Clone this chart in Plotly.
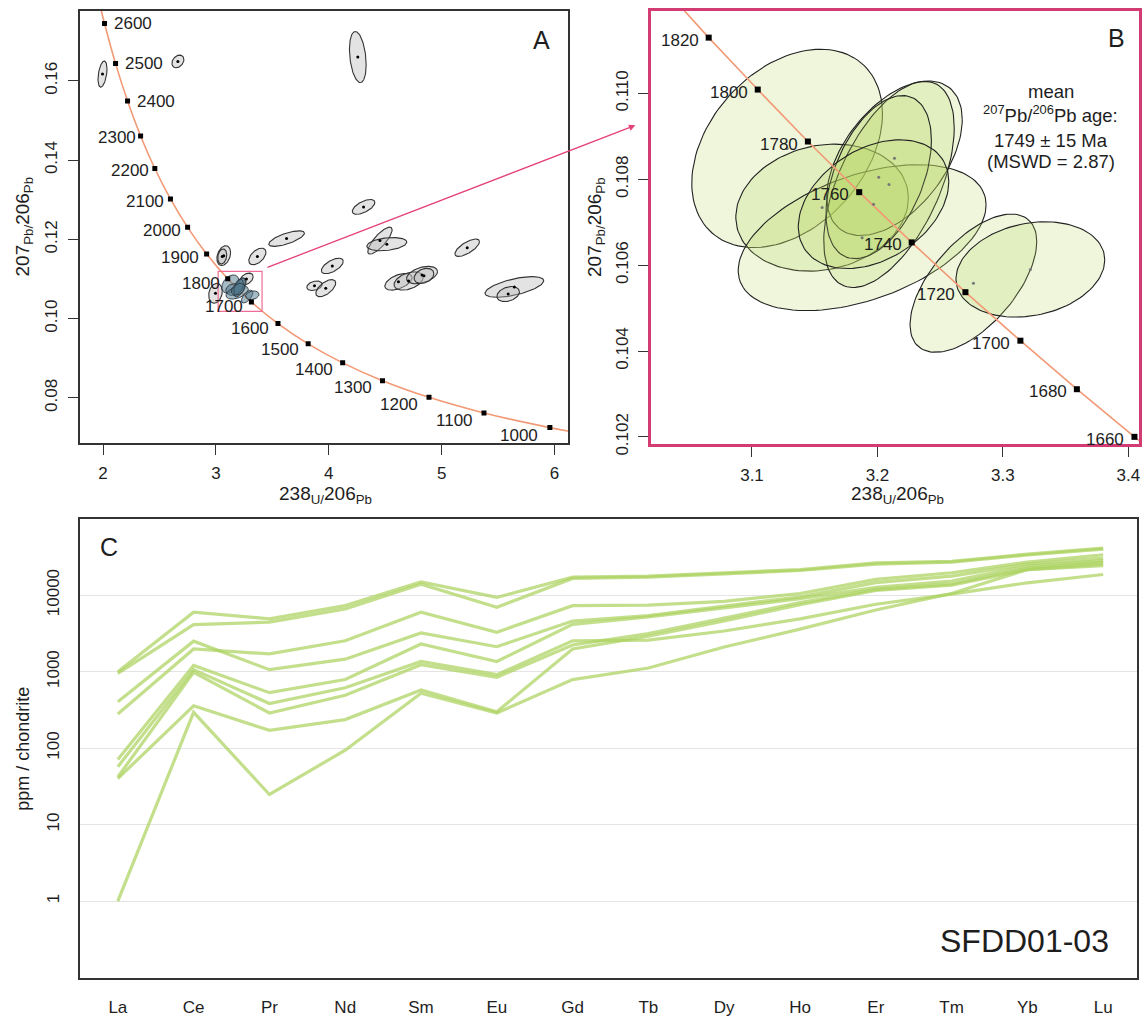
import numpy as np
import plotly.graph_objects as go

W, H = 1146, 1019

# ---------------- DATA ----------------
# Concordia age markers (Ma) and their Tera-Wasserburg coordinates
conc_age_A = [2650, 2600, 2500, 2400, 2300, 2200, 2100, 2000, 1900, 1800, 1700, 1600, 1500, 1400, 1300, 1200, 1100, 1000, 950]
conc_x_A = [1.9668, 2.0129, 2.1108, 2.2170, 2.3325, 2.4586, 2.5969, 2.7491, 2.9175, 3.1046, 3.3140, 3.5497, 3.8171, 4.1228, 4.4757, 4.8877, 5.3748, 5.9586, 6.298]
conc_y_A = [0.17977, 0.17445, 0.16434, 0.15490, 0.14609, 0.13788, 0.13020, 0.12304, 0.11634, 0.11008, 0.10423, 0.09876, 0.09365, 0.08885, 0.08436, 0.08016, 0.07622, 0.07252, 0.07077]
labelled_A = [2600, 2500, 2400, 2300, 2200, 2100, 2000, 1900, 1800, 1700, 1600, 1500, 1400, 1300, 1200, 1100, 1000]

conc_age_B = [1840, 1820, 1800, 1780, 1760, 1740, 1720, 1700, 1680, 1660, 1640]
conc_x_B = [3.02718, 3.06548, 3.10459, 3.14456, 3.18547, 3.22731, 3.27013, 3.31396, 3.35897, 3.40488, 3.45237]
conc_y_B = [0.11254, 0.11130, 0.11009, 0.10888, 0.10770, 0.10653, 0.10537, 0.10424, 0.10311, 0.10200, 0.10091]
labelled_B = [1820, 1800, 1780, 1760, 1740, 1720, 1700, 1680, 1660]

# Gray (all analyses) error ellipses in panel A: centre, half-widths, correlation
A_cx = [1.995, 2.663, 4.257, 4.308, 3.626, 3.367, 3.069, 3.056, 4.453, 4.514, 4.031, 3.873, 3.973, 5.226, 4.617, 4.707, 4.826, 4.843, 5.644, 5.589, 2.996, 3.270]
A_cy = [0.1617, 0.1649, 0.1660, 0.1282, 0.1202, 0.1157, 0.1159, 0.1157, 0.1197, 0.1188, 0.1133, 0.1083, 0.1077, 0.1179, 0.1093, 0.1095, 0.1110, 0.1108, 0.1080, 0.1062, 0.1064, 0.1100]
A_sx = [0.040, 0.053, 0.074, 0.100, 0.158, 0.076, 0.061, 0.040, 0.108, 0.177, 0.097, 0.068, 0.088, 0.109, 0.121, 0.129, 0.137, 0.088, 0.260, 0.100, 0.060, 0.060]
A_sy = [0.0033, 0.0016, 0.00645, 0.00187, 0.00196, 0.0021, 0.0025, 0.0019, 0.0034, 0.00166, 0.00196, 0.0012, 0.00216, 0.0022, 0.0021, 0.0023, 0.0022, 0.0019, 0.0026, 0.0019, 0.0025, 0.0015]
A_rho = [0.4, 0.3, -0.3, 0.6, 0.7, 0.5, 0.3, 0.2, 0.8, 0.3, 0.6, 0.3, 0.6, 0.7, 0.5, 0.4, 0.4, 0.3, 0.6, 0.3, 0.2, 0.4]

# Concordant analyses used for the mean age (panel B, highlighted in A)
B_cx = [3.128, 3.1559, 3.1878, 3.2136, 3.2092, 3.201, 3.1969, 3.2765, 3.3219]
B_cy = [0.10872, 0.10734, 0.10664, 0.10849, 0.10788, 0.10805, 0.10742, 0.10558, 0.1059]
B_sx = [0.076, 0.0688, 0.0988, 0.054, 0.052, 0.042, 0.060, 0.0505, 0.0593]
B_sy = [0.00231, 0.00148, 0.0017, 0.0018, 0.0024, 0.0019, 0.0015, 0.00161, 0.00111]
B_rho = [0.35, 0.15, 0.45, 0.5, 0.55, 0.45, 0.35, 0.6, 0.2]

# REE chondrite-normalised patterns (panel C)
ree = ["La", "Ce", "Pr", "Nd", "Sm", "Eu", "Gd", "Tb", "Dy", "Ho", "Er", "Tm", "Yb", "Lu"]
ree_1 = [1000, 5980, 4909, 7290, 14850, 9330, 17200, 17740, 19600, 21600, 26400, 27700, 34400, 41100]
ree_2 = [950, 4110, 4446, 6607, 13870, 6940, 16560, 17200, 19000, 21000, 25500, 27000, 33500, 40000]
ree_3 = [403, 2505, 1061, 1455, 3206, 2118, 4580, 5400, 7200, 9500, 14600, 17700, 25500, 30500]
ree_4 = [279, 1977, 1706, 2531, 5980, 3273, 7290, 7400, 8300, 10500, 16100, 19600, 27000, 33700]
ree_5 = [71, 1207, 531, 788, 2295, 1358, 4150, 5200, 6800, 9000, 12600, 15300, 24000, 28200]
ree_6 = [57, 1062, 383, 616, 1358, 914, 2530, 2580, 3400, 4900, 7600, 10300, 14500, 18600]
ree_7 = [42, 980, 288, 491, 1231, 845, 2227, 3140, 5000, 8000, 11900, 14000, 22500, 27100]
ree_8 = [40, 358, 171, 236, 575, 299, 1977, 2900, 4600, 7500, 11500, 13500, 21500, 24300]
ree_9 = [1, 294, 24.8, 94, 521, 288, 788, 1114, 2100, 3600, 6400, 10500, 21600, 25600]
ree_series = [ree_1, ree_2, ree_3, ree_4, ree_5, ree_6, ree_7, ree_8, ree_9]

y_ticks_C = [1, 10, 100, 1000, 10000]

# ---------------- LAYOUT GEOMETRY ----------------
A_dx = [80 / W, 568.7 / W]
A_dy = [1 - 447.7 / H, 1 - 10.7 / H]
B_dx = [651.7 / W, 1140 / W]
B_dy = [1 - 449 / H, 1 - 10.7 / H]
C_dx = [80 / W, 1138.3 / W]
C_dy = [1 - 988.3 / H, 1 - 524.3 / H]
A_xr = [1.795, 6.121]
A_yr = [0.06867, 0.17772]
B_xr = [3.0196, 3.4085]
B_yr = [0.10183, 0.11193]

FONT = "Liberation Sans, Arial, Helvetica, sans-serif"
INK = "#1e1e1e"
FRAME = "#333333"
PINK = "#d23c72"
CONC = "#f29a76"


def ellipse(cx, cy, sx, sy, rho, n=120):
    t = np.linspace(0, 2 * np.pi, n)
    x = cx + sx * np.cos(t)
    y = cy + sy * (rho * np.cos(t) + np.sqrt(1 - rho ** 2) * np.sin(t))
    return x, y


fig = go.Figure()

# ---- Panel A ----
fig.add_trace(go.Scatter(x=conc_x_A, y=conc_y_A, mode="lines", line=dict(color=CONC, width=1.6, shape="spline"),
                         xaxis="x", yaxis="y", hoverinfo="skip", showlegend=False))
for cx, cy, sx, sy, r in zip(A_cx, A_cy, A_sx, A_sy, A_rho):
    ex, ey = ellipse(cx, cy, sx, sy, r)
    fig.add_trace(go.Scatter(x=ex, y=ey, mode="lines", fill="toself", fillcolor="rgba(185,185,185,0.4)",
                             line=dict(color="#333333", width=1.1), xaxis="x", yaxis="y", showlegend=False, hoverinfo="skip"))
for cx, cy, sx, sy, r in zip(B_cx, B_cy, B_sx, B_sy, B_rho):
    ex, ey = ellipse(cx, cy, sx, sy, r)
    fig.add_trace(go.Scatter(x=ex, y=ey, mode="lines", fill="toself", fillcolor="rgba(80,120,140,0.5)",
                             line=dict(color="#2a3840", width=0.9), xaxis="x", yaxis="y", showlegend=False, hoverinfo="skip"))
fig.add_trace(go.Scatter(x=A_cx, y=A_cy, mode="markers", marker=dict(color="black", size=3),
                         xaxis="x", yaxis="y", showlegend=False, hoverinfo="skip"))
idxA = [conc_age_A.index(a) for a in labelled_A]
fig.add_trace(go.Scatter(x=[conc_x_A[i] for i in idxA], y=[conc_y_A[i] for i in idxA], mode="markers",
                         marker=dict(symbol="square", color="black", size=5),
                         xaxis="x", yaxis="y", showlegend=False, hoverinfo="skip"))

# ---- Panel B ----
for cx, cy, sx, sy, r in zip(B_cx, B_cy, B_sx, B_sy, B_rho):
    ex, ey = ellipse(cx, cy, sx, sy, r)
    fig.add_trace(go.Scatter(x=ex, y=ey, mode="lines", fill="toself", fillcolor="rgba(180,215,95,0.22)",
                             line=dict(color="#222222", width=1.1), xaxis="x2", yaxis="y2", showlegend=False, hoverinfo="skip"))
fig.add_trace(go.Scatter(x=conc_x_B, y=conc_y_B, mode="lines", line=dict(color=CONC, width=1.6),
                         xaxis="x2", yaxis="y2", hoverinfo="skip", showlegend=False))
fig.add_trace(go.Scatter(x=B_cx, y=B_cy, mode="markers", marker=dict(color="#777777", size=3),
                         xaxis="x2", yaxis="y2", showlegend=False, hoverinfo="skip"))
idxB = [conc_age_B.index(a) for a in labelled_B]
fig.add_trace(go.Scatter(x=[conc_x_B[i] for i in idxB], y=[conc_y_B[i] for i in idxB], mode="markers",
                         marker=dict(symbol="square", color="black", size=6),
                         xaxis="x2", yaxis="y2", showlegend=False, hoverinfo="skip", cliponaxis=False))

# ---- Panel C ----
for s in ree_series:
    fig.add_trace(go.Scatter(x=list(range(len(ree))), y=s, mode="lines",
                             line=dict(color="rgba(172,210,96,0.72)", width=3.2),
                             xaxis="x3", yaxis="y3", showlegend=False, hoverinfo="skip"))

LBL = 17
annotations = []
# concordia age labels, panel A
for a in labelled_A:
    i = conc_age_A.index(a)
    if a >= 2400:
        annotations.append(dict(x=conc_x_A[i], y=conc_y_A[i], xref="x", yref="y", text=str(a), showarrow=False,
                                xanchor="left", yanchor="middle", xshift=7, font=dict(size=LBL, color=INK, family=FONT)))
    else:
        f = (2300 - a) / 1300.0
        annotations.append(dict(x=conc_x_A[i], y=conc_y_A[i], xref="x", yref="y", text=str(a), showarrow=False,
                                xanchor="right", yanchor="middle", xshift=-(3 + 7 * f), yshift=-(2 + 6 * f),
                                font=dict(size=LBL, color=INK, family=FONT)))
for a in labelled_B:
    i = conc_age_B.index(a)
    annotations.append(dict(x=conc_x_B[i], y=conc_y_B[i], xref="x2", yref="y2", text=str(a), showarrow=False,
                            xanchor="right", yanchor="middle", xshift=-8, yshift=-2.5,
                            font=dict(size=LBL, color=INK, family=FONT)))


def pa(text, x, y, size, **kw):
    d = dict(x=x / W, y=1 - y / H, xref="paper", yref="paper", text=text, showarrow=False,
             xanchor="center", yanchor="middle", font=dict(size=size, color=INK, family=FONT))
    d.update(kw)
    return d


annotations += [
    pa("A", 541.6, 40, 25),
    pa("B", 1117, 38, 25),
    pa("C", 109, 553, 25),
    pa("SFDD01-03", 1111.7, 951.7, 32, xanchor="right"),
    pa("mean", 1051.6, 92.3, 18.5),
    pa("<sup>207</sup>Pb/<sup>206</sup>Pb age:", 1051.6, 115, 18.5),
    pa("1749 ± 15 Ma", 1051.6, 142.3, 18.5),
    pa("(MSWD = 2.87)", 1051.6, 163.3, 18.5),
    pa("238<sub>U/</sub>206<sub>Pb</sub>", 326, 500, 19),
    pa("238<sub>U/</sub>206<sub>Pb</sub>", 898, 500, 19),
    pa("207<sub>Pb/</sub>206<sub>Pb</sub>", 24, 229, 19, textangle=-90),
    pa("207<sub>Pb/</sub>206<sub>Pb</sub>", 596, 229, 19, textangle=-90),
    pa("ppm / chondrite", 23, 757, 18, textangle=-90),
]
# zoom arrow from A to B
annotations.append(dict(x=636 / W, y=1 - 126.7 / H, xref="paper", yref="paper", ax=-369.5, ay=142.6,
                        axref="pixel", ayref="pixel", text="", showarrow=True, arrowhead=2, arrowsize=1,
                        arrowwidth=1.3, arrowcolor="#e4407a", standoff=0, startstandoff=0))

shapes = [dict(type="rect", xref="x", yref="y", x0=B_xr[0], x1=B_xr[1], y0=B_yr[0], y1=B_yr[1],
               line=dict(color="#ee6d96", width=1.2), fillcolor="rgba(0,0,0,0)")]

tickfont = dict(size=17, color=INK, family=FONT)
ax_common = dict(showgrid=False, zeroline=False, showline=True, mirror=True, ticks="outside", ticklen=10,
                 tickwidth=1.2, tickcolor=FRAME, tickfont=tickfont, ticklabelstandoff=4)

fig.update_layout(
    width=W, height=H, margin=dict(l=0, r=0, t=0, b=0), paper_bgcolor="white", plot_bgcolor="white",
    font=dict(family=FONT, color=INK),
    xaxis=dict(domain=A_dx, range=A_xr, anchor="y", tickvals=[2, 3, 4, 5, 6], linecolor=FRAME, linewidth=1.6, **ax_common),
    yaxis=dict(domain=A_dy, range=A_yr, anchor="x", tickvals=[0.08, 0.10, 0.12, 0.14, 0.16],
               ticktext=["0.08", "0.10", "0.12", "0.14", "0.16"], tickangle=-90, linecolor=FRAME, linewidth=1.6, **ax_common),
    xaxis2=dict(domain=B_dx, range=B_xr, anchor="y2", tickvals=[3.1, 3.2, 3.3, 3.4], linecolor=PINK, linewidth=2.6, **ax_common),
    yaxis2=dict(domain=B_dy, range=B_yr, anchor="x2", tickvals=[0.102, 0.104, 0.106, 0.108, 0.110],
                ticktext=["0.102", "0.104", "0.106", "0.108", "0.110"], tickangle=-90, linecolor=PINK, linewidth=2.6, **ax_common),
    xaxis3=dict(domain=C_dx, range=[-0.5, 13.45], anchor="y3", tickvals=list(range(len(ree))), ticktext=ree,
                showgrid=False, zeroline=False, showline=True, mirror=True, linecolor=FRAME, linewidth=1.6,
                ticks="outside", ticklen=13, tickcolor="rgba(0,0,0,0)", tickfont=dict(size=17, color=INK, family=FONT)),
    yaxis3=dict(domain=C_dy, type="log", range=[-1, 5], anchor="x3", tickvals=y_ticks_C,
                ticktext=[str(v) for v in y_ticks_C], tickangle=-90, showgrid=True, gridcolor="#e4e4e4", gridwidth=1.2,
                zeroline=False, showline=True, mirror=True, linecolor=FRAME, linewidth=1.6,
                ticks="outside", ticklen=12, tickcolor="rgba(0,0,0,0)", tickfont=dict(size=17, color=INK, family=FONT)),
    annotations=annotations, shapes=shapes,
)

fig.write_html("out.html")
